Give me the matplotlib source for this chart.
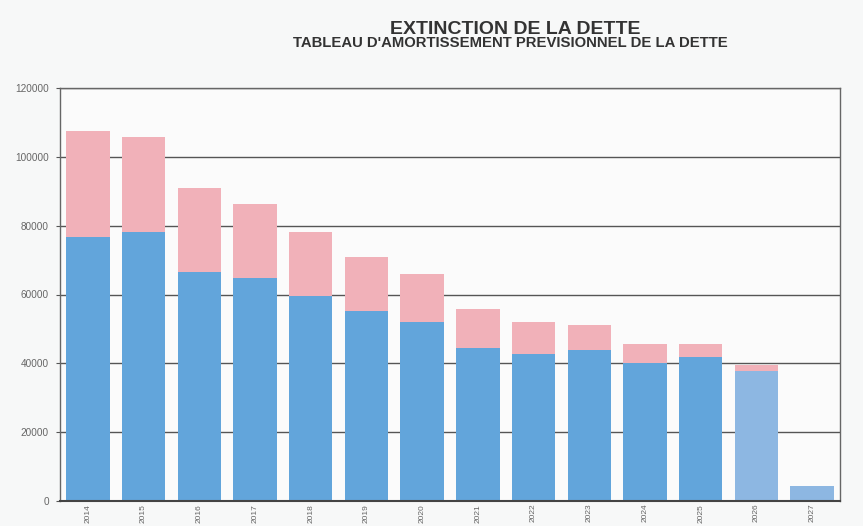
import matplotlib
matplotlib.use("Agg")
import matplotlib.pyplot as plt
import numpy as np

years = ["2014", "2015", "2016", "2017", "2018", "2019", "2020",
         "2021", "2022", "2023", "2024", "2025", "2026", "2027"]
capital = [76600, 78100, 66600, 64900, 59600, 55200, 52100,
           44600, 42700, 43900, 40200, 41900, 37800, 4400]
interets = [30900, 27600, 24300, 21300, 18500, 15800, 13800,
            11200, 9400, 7300, 5400, 3700, 1800, 0]
yticks = [0, 20000, 40000, 60000, 80000, 100000, 120000]

blue = "#62a5db"
blue_light = "#8db7e2"
pink = "#f1b1b9"
bar_colors = [blue] * 12 + [blue_light] * 2

plt.rcParams['font.family'] = ['Liberation Sans', 'DejaVu Sans']

fig = plt.figure(figsize=(8.63, 5.26), dpi=100, facecolor="#f7f8f8")
ax = fig.add_axes([60 / 863, 1 - 501 / 526, 780 / 863, 413 / 526])
ax.set_facecolor("#fbfbfb")

x = np.arange(len(years))
ax.bar(x, capital, width=0.78, color=bar_colors, zorder=2)
ax.bar(x, interets, width=0.78, bottom=capital, color=pink, zorder=2)

ax.set_xlim(-0.5, len(years) - 0.5)
ax.set_ylim(0, 120000)
ax.set_yticks(yticks)
ax.set_yticklabels([str(v) for v in yticks], fontsize=7.2, color="#666666")
ax.set_xticks(x)
ax.set_xticklabels(years, rotation=90, fontsize=6, color="#666666", va="top")
ax.tick_params(axis="y", length=3, color="#555555", pad=5)
ax.tick_params(axis="x", length=0, pad=2)
ax.grid(axis="y", color="#555555", linewidth=1.0, zorder=1)
for s in ["left", "right", "top", "bottom"]:
    ax.spines[s].set_color("#666666")
    ax.spines[s].set_linewidth(1.0)
ax.spines["bottom"].set_color("#444444")
ax.spines["bottom"].set_linewidth(1.5)

fig.text(515 / 863, 1 - 29 / 526, "EXTINCTION DE LA DETTE", ha="center", va="center",
         fontsize=14, fontweight="bold", color="#333333")
fig.text(510 / 863, 1 - 43 / 526, "TABLEAU D'AMORTISSEMENT PREVISIONNEL DE LA DETTE",
         ha="center", va="center", fontsize=10.7, fontweight="bold", color="#333333")

fig.savefig("out.png", dpi=100, facecolor=fig.get_facecolor())
